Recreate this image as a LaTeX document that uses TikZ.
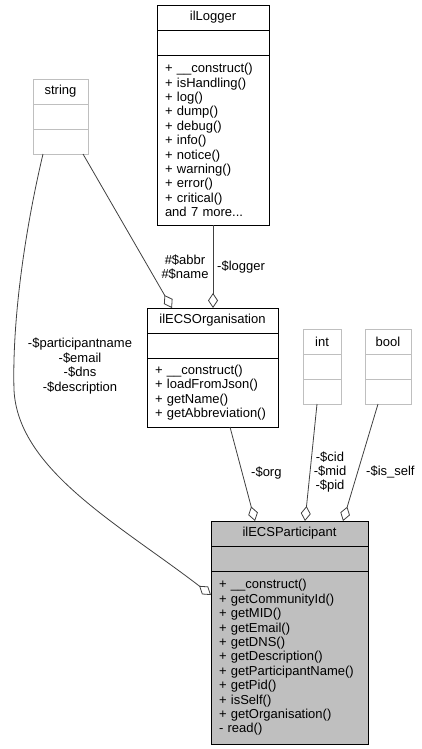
\documentclass[tikz,border=0pt]{standalone}
\usepackage{fontspec}
\setmainfont{Liberation Sans}
\usetikzlibrary{arrows.meta,positioning,calc}
\definecolor{edgegray}{RGB}{64,64,64}
\definecolor{boxgray}{RGB}{191,191,191}
\tikzset{
    every node/.style = {font=\fontsize{13}{14.4}\selectfont},
    headbox/.style  = {draw=black, fill=white, line width=0.8pt, outer sep=0pt,
            minimum width=#1, minimum height=25pt, inner sep=0pt, anchor=north},
    opsbox/.style   = {draw=black, fill=white, line width=0.8pt, outer sep=0pt,
            text width=#1, inner xsep=8pt, inner ysep=0pt, align=left, anchor=north},
    typehead/.style = {headbox=#1, draw=boxgray},
    typeops/.style  = {opsbox=#1, draw=boxgray, minimum height=25pt},
    mainbox/.style  = {fill=boxgray},
    edge/.style     = {-{Diamond[open, length=15pt, width=10pt]}, line width=0.8pt, draw=edgegray},
    lbl/.style      = {align=center, inner sep=0pt},
}
\begin{document}
\begin{tikzpicture}[x=1pt, y=-1pt, node distance=0pt]
    \useasboundingbox (0,0) rectangle (422,749);
    % Nodes
    \node[headbox=112pt] (logger) at (213,5) {ilLogger};
    \node[headbox=112pt, below=of logger] (loggerAttr) {};
    \node[opsbox=96pt, minimum height=170pt, below=of loggerAttr] (loggerOps)
        {+ \_\_construct()\\+ isHandling()\\+ log()\\+ dump()\\+ debug()\\+ info()\\+ notice()\\+ warning()\\+ error()\\+ critical()\\and 7 more...};
    \node[typehead=55pt] (str) at (60.5,79) {string};
    \node[typehead=55pt, below=of str] (strAttr) {};
    \node[typeops=39pt, below=of strAttr] (strOps) {};
    \node[headbox=131pt] (org) at (212.5,308) {ilECSOrganisation};
    \node[headbox=131pt, below=of org] (orgAttr) {};
    \node[opsbox=115pt, minimum height=69pt, below=of orgAttr] (orgOps)
        {+ \_\_construct()\\+ loadFromJson()\\+ getName()\\+ getAbbreviation()};
    \node[typehead=38pt] (int) at (322,329) {int};
    \node[typehead=38pt, below=of int] (intAttr) {};
    \node[typeops=22pt, below=of intAttr] (intOps) {};
    \node[typehead=46pt] (bool) at (388,329) {bool};
    \node[typehead=46pt, below=of bool] (boolAttr) {};
    \node[typeops=30pt, below=of boolAttr] (boolOps) {};
    \node[headbox=157pt, mainbox] (part) at (289.5,521) {ilECSParticipant};
    \node[headbox=157pt, mainbox, below=of part] (partAttr) {};
    \node[opsbox=141pt, mainbox, minimum height=173pt, below=of partAttr] (partOps)
        {+ \_\_construct()\\+ getCommunityId()\\+ getMID()\\+ getEmail()\\+ getDNS()\\+ getDescription()\\+ getParticipantName()\\+ getPid()\\+ isSelf()\\+ getOrganisation()\\- read()};
    % Arrows
    \draw[edge] (loggerOps.south) -- (loggerOps.south |- org.north);
    \draw[edge] ([xshift=22.5pt]strOps.south) -- ([xshift=25pt]org.north west);
    \draw[edge] ([xshift=10pt]strOps.south west)
        .. controls (25,230) and (12,320) .. (14,390)
        .. controls (18,470) and (120,525) .. ([yshift=-24pt]partOps.north west);
    \draw[edge] ([xshift=83pt]orgOps.south west) -- ([xshift=44pt]part.north west);
    \draw[edge] ([xshift=14pt]intOps.south west) -- ([xshift=94pt]part.north west);
    \draw[edge] ([xshift=13pt]boolOps.south west) -- ([xshift=132pt]part.north west);
    % Labels
    \node[lbl] (lblAbbr) at (185,267) {\#\$abbr\\\#\$name};
    \node[lbl, anchor=west] (lblLogger) at (217,267) {-\$logger};
    \node[lbl] (lblStr) at (80,366) {-\$participantname\\-\$email\\-\$dns\\-\$description};
    \node[lbl, anchor=west] (lblOrg) at (251,473) {-\$org};
    \node[lbl] (lblInt) at (330,472) {-\$cid\\-\$mid\\-\$pid};
    \node[lbl, anchor=west] (lblBool) at (366,472) {-\$is\_self};
\end{tikzpicture}
\end{document}
